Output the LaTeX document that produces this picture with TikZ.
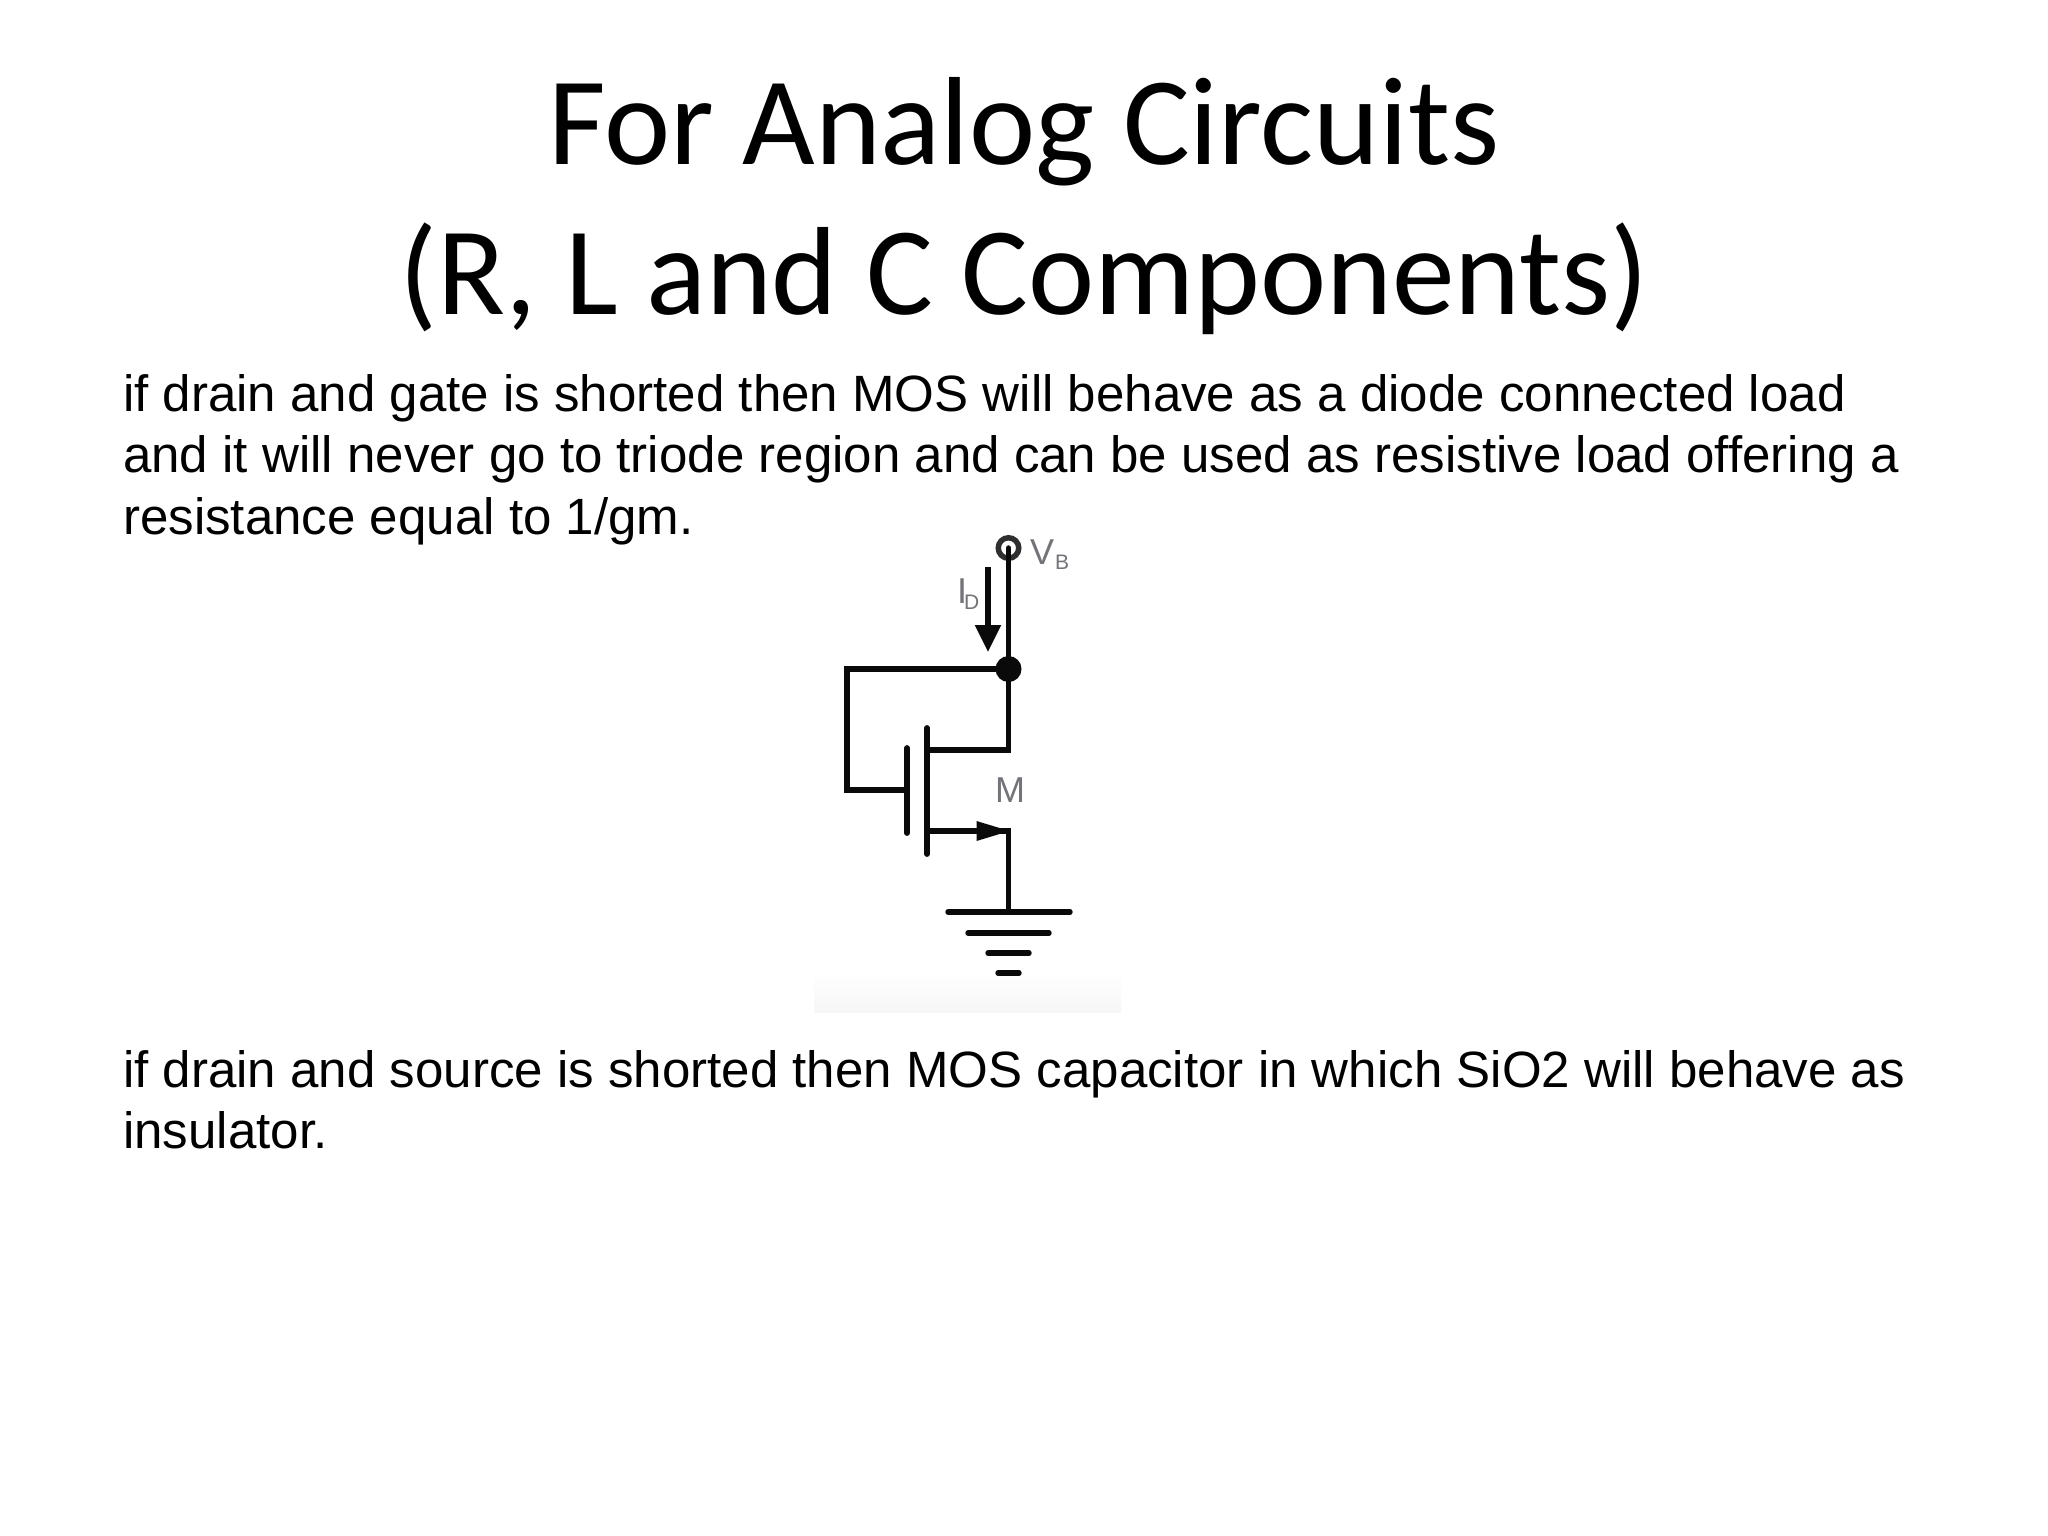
\documentclass[tikz,border=0pt]{standalone}
\usepackage{fontspec}
\setmainfont{Liberation Sans}
\newfontfamily\titlefont{Carlito}
\usetikzlibrary{arrows.meta,calc}
\definecolor{labelgray}{RGB}{115,115,122}
\definecolor{wire}{RGB}{10,10,10}
\tikzset{
  titletext/.style={inner sep=0pt,anchor=base,font=\titlefont\fontsize{125.4}{150}\selectfont},
  bodytext/.style={inner sep=0pt,anchor=base west,font=\fontsize{51.05}{61}\selectfont},
  wireline/.style={draw=wire,line width=5.4pt,line cap=round,line join=miter},
  plate/.style={draw=wire,line width=5.8pt,line cap=round},
  circlabel/.style={inner sep=0pt,text=labelgray,font=\fontsize{36}{36}\selectfont},
  sublabel/.style={inner sep=0pt,text=labelgray,font=\fontsize{21}{21}\selectfont},
}
\begin{document}
\begin{tikzpicture}[x=1pt,y=-1pt]
\useasboundingbox (0,0) rectangle (2048,1536);
\fill[white] (0,0) rectangle (2048,1536);
% faint band under the pasted circuit
\shade[top color=white,bottom color=black!3.5] (814,972) rectangle (1121,1012);
% title
\node[titletext] (t1) at (1024,164.5) {For Analog Circuits};
\node[titletext] (t2) at (1024,314) {(R, L and C Components)};
% body
\node[bodytext] (b1) at (123,411) {if drain and gate is shorted then MOS will behave as a diode connected load};
\node[bodytext] (b2) at (123,472) {and it will never go to triode region and can be used as resistive load offering a};
\node[bodytext] (b3) at (123,534) {resistance equal to 1/gm.};
\node[bodytext] (b4) at (123,1087) {if drain and source is shorted then MOS capacitor in which SiO2 will behave as};
\node[bodytext] (b5) at (123,1148) {insulator.};
% circuit points
\coordinate (vb) at (1008.5,548);
\coordinate (dot) at (1008.5,669);
\coordinate (tl) at (847,669);
\coordinate (gl) at (847,790);
\coordinate (gr) at (907,790);
\coordinate (gt) at (907,748);
\coordinate (gb) at (907,833);
\coordinate (ct) at (927,728);
\coordinate (cb) at (927,854);
\coordinate (dl) at (927,750);
\coordinate (dr) at (1008.5,750);
\coordinate (sl) at (927,831);
\coordinate (sr) at (1008.5,831);
\coordinate (gnd) at (1008.5,912);
\coordinate (g1l) at (948,912);\coordinate (g1r) at (1070,912);
\coordinate (g2l) at (968,933);\coordinate (g2r) at (1049,933);
\coordinate (g3l) at (988,953);\coordinate (g3r) at (1029,953);
\coordinate (g4l) at (998,973);\coordinate (g4r) at (1019,973);
\coordinate (ia) at (988,567);
\coordinate (ib) at (988,652);
% wires
\draw[wireline] (vb) -- (dot);
\draw[wireline] (dot) -- (tl) -- (gl) -- (gr);
\draw[wireline] (dot) -- (dr) -- (dl);
\draw[plate] (gt) -- (gb);
\draw[plate] (ct) -- (cb);
\draw[wireline] (sl) -- (sr) -- (gnd);
\fill[wire] ($(sr)+(1,0)$) -- ++(-33,-10) -- ++(0,20) -- cycle;
\draw[wireline] (g1l) -- (g1r);
\draw[wireline] (g2l) -- (g2r);
\draw[wireline] (g3l) -- (g3r);
\draw[wireline] (g4l) -- (g4r);
\node[circle,fill=wire,minimum size=26pt,inner sep=0pt] (n1) at (dot) {};
\node[circle,draw=wire!85,line width=5.5pt,fill=white,minimum size=20.5pt,inner sep=0pt] (n2) at (vb) {};
\draw[wireline] (n2.center) -- (n2.south);
% current arrow
\draw[wire,line width=5.4pt,-{Triangle[length=27pt,width=25pt]}] (ia) -- (ib);
% labels
\node[circlabel,anchor=base west] (lv) at (1030,564) {V};
\node[sublabel,anchor=base west] (lvs) at (1055,569) {B};
\node[circlabel,anchor=base west] (li) at (957,603) {I};
\node[sublabel,anchor=base west] (lis) at (964,609) {D};
\node[circlabel,anchor=center] (lm) at (1010,790) {M};
\end{tikzpicture}
\end{document}
